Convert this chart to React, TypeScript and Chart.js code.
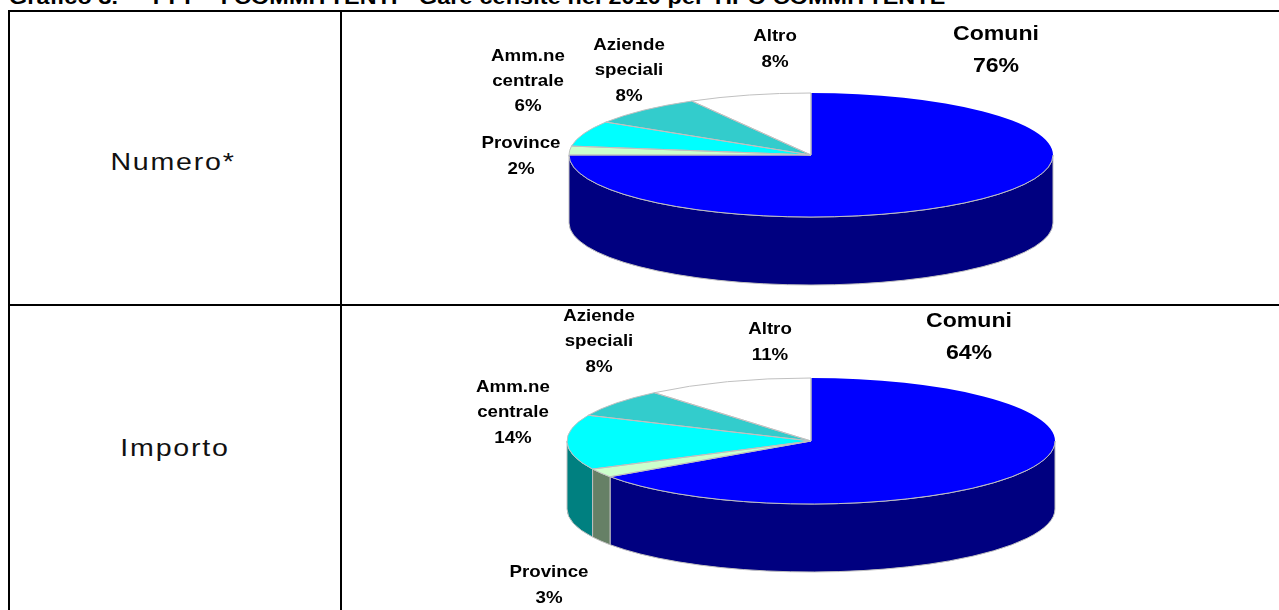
import React, { useEffect, useRef } from "react";
import { Chart, registerables } from "chart.js";

Chart.register(...registerables);

// ---- data ----
const sliceNames = ["Comuni", "Province", "Amm.ne centrale", "Aziende speciali", "Altro"];
const numeroValues = [75, 2.3, 6.6, 7.9, 8.2];
const importoValues = [65.4, 2.25, 14.05, 7.2, 11.1];
const numeroPercentLabels = ["76%", "2%", "6%", "8%", "8%"];
const importoPercentLabels = ["64%", "3%", "14%", "8%", "11%"];
const rowLabels = ["Numero*", "Importo"];
const titleText = "Grafico 3.  -  PPP - I COMMITTENTI - Gare censite nel 2010 per TIPO COMMITTENTE";

// ---- styles ----
const topColors = ["#0000ff", "#ccffcc", "#00ffff", "#33cccc", "#ffffff"];
const wallColors = ["#000080", "#668066", "#008080", "#1a8080", "#808080"];
const edge = "#c0c0c0";
const labelFont = '"Liberation Sans", Arial, sans-serif';

type LabelPos = { x: number; y: number; gap: number; size: number };

const numeroLayout = {
  left: 342, top: 12, width: 936, height: 292, padLeft: 2, padBottom: 6,
  radius: 242, ry: 62, depth: 68,
  labels: [
    { x: 996, y: 34, gap: 32, size: 21 },
    { x: 521, y: 143, gap: 26, size: 17 },
    { x: 528, y: 56, gap: 25, size: 17 },
    { x: 629, y: 45, gap: 25.5, size: 17 },
    { x: 775, y: 36, gap: 26, size: 17 },
  ] as LabelPos[],
};
const importoLayout = {
  left: 342, top: 306, width: 936, height: 304, padLeft: 2, padBottom: 34,
  radius: 244, ry: 63, depth: 68,
  labels: [
    { x: 969, y: 321, gap: 32, size: 21 },
    { x: 549, y: 572, gap: 26, size: 17 },
    { x: 513, y: 387, gap: 25.5, size: 17 },
    { x: 599, y: 316, gap: 25.5, size: 17 },
    { x: 770, y: 329, gap: 26, size: 17 },
  ] as LabelPos[],
};

function makePie3d(layout: typeof numeroLayout, percents: string[]) {
  const k = layout.ry / layout.radius;
  return {
    id: "pie3d",
    beforeDatasetDraw(chart: any) {
      const ctx = chart.ctx;
      const arcs = chart.getDatasetMeta(0).data;
      ctx.save();
      ctx.strokeStyle = edge;
      ctx.lineWidth = 1;
      arcs.forEach((arc: any, i: number) => {
        const s = Math.max(arc.startAngle, 0);
        const e = Math.min(arc.endAngle, Math.PI);
        if (s >= e) return;
        const r = arc.outerRadius;
        ctx.beginPath();
        ctx.ellipse(arc.x, arc.y, r, r * k, 0, s, e);
        ctx.ellipse(arc.x, arc.y + layout.depth, r, r * k, 0, e, s, true);
        ctx.closePath();
        ctx.fillStyle = wallColors[i];
        ctx.fill();
        ctx.stroke();
      });
      ctx.restore();
      const first = arcs[0];
      ctx.save();
      ctx.translate(first.x, first.y);
      ctx.scale(1, k);
      ctx.translate(-first.x, -first.y);
    },
    afterDatasetDraw(chart: any) {
      const ctx = chart.ctx;
      ctx.restore();
      const arcs = chart.getDatasetMeta(0).data;
      ctx.save();
      ctx.strokeStyle = edge;
      ctx.lineWidth = 1;
      arcs.forEach((arc: any, i: number) => {
        const r = arc.outerRadius;
        ctx.beginPath();
        if (i === 0) {
          // the largest slice shows no rim along its back edge
          ctx.moveTo(arc.x, arc.y - r * k);
          ctx.lineTo(arc.x, arc.y);
          ctx.lineTo(arc.x + r * Math.cos(arc.endAngle), arc.y + r * k * Math.sin(arc.endAngle));
          ctx.ellipse(arc.x, arc.y, r, r * k, 0, arc.endAngle, 0, true);
        } else {
          ctx.moveTo(arc.x, arc.y);
          ctx.ellipse(arc.x, arc.y, r, r * k, 0, arc.startAngle, arc.endAngle);
          ctx.closePath();
        }
        ctx.stroke();
      });
      ctx.restore();
    },
    afterDraw(chart: any) {
      const ctx = chart.ctx;
      ctx.save();
      ctx.fillStyle = "#000";
      ctx.textAlign = "center";
      ctx.textBaseline = "middle";
      sliceNames.forEach((name, i) => {
        const p = layout.labels[i];
        const words = name.split(" ");
        const lines = [...words, percents[i]];
        ctx.font = `bold ${p.size}px ${labelFont}`;
        lines.forEach((t, j) => {
          ctx.save();
          ctx.translate(p.x - layout.left, p.y - layout.top + j * p.gap);
          ctx.scale(1.1, 1);
          ctx.fillText(t, 0, 0);
          ctx.restore();
        });
      });
      ctx.restore();
    },
  };
}

function Pie({ values, layout, percents }: { values: number[]; layout: typeof numeroLayout; percents: string[] }) {
  const ref = useRef<HTMLCanvasElement | null>(null);
  useEffect(() => {
    if (!ref.current) return;
    const chart = new Chart(ref.current, {
      type: "pie",
      data: {
        labels: sliceNames,
        datasets: [
          {
            data: values,
            backgroundColor: topColors,
            borderWidth: 0,
            radius: layout.radius,
            clip: false,
          } as any,
        ],
      },
      options: {
        animation: false,
        responsive: false,
        maintainAspectRatio: false,
        events: [],
        layout: { padding: { left: layout.padLeft, bottom: layout.padBottom, top: 0, right: 0 } },
        plugins: { legend: { display: false }, title: { display: false }, tooltip: { enabled: false } },
      },
      plugins: [makePie3d(layout, percents)],
    });
    return () => chart.destroy();
  }, []);
  return (
    <canvas
      ref={ref}
      width={layout.width}
      height={layout.height}
      style={{ position: "absolute", left: layout.left, top: layout.top, width: layout.width, height: layout.height }}
    />
  );
}

const line = (left: number, top: number, width: number, height: number): React.CSSProperties => ({
  position: "absolute", left, top, width, height, background: "#000",
});

const rowText = (cx: number, cy: number): React.CSSProperties => ({
  position: "absolute",
  left: cx - 100,
  top: cy - 15,
  width: 200,
  height: 30,
  lineHeight: "30px",
  textAlign: "center",
  fontFamily: labelFont,
  fontSize: 24,
  letterSpacing: 1.5,
  color: "#111",
  transform: "scaleX(1.19)",
  whiteSpace: "pre",
});

export default function App() {
  return (
    <div style={{ position: "fixed", left: 0, top: 0, width: 1279, height: 610, overflow: "hidden", background: "#fff" }}>
      <div
        style={{
          position: "absolute", left: 9, top: -13, height: 20, lineHeight: "20px", whiteSpace: "pre",
          fontFamily: labelFont, fontWeight: "bold", fontSize: 20, letterSpacing: 0.15, color: "#000",
          transform: "scaleX(1.165)", transformOrigin: "left top",
        }}
      >
        {titleText}
      </div>
      <div style={line(8, 10, 1271, 2)} />
      <div style={line(8, 10, 2, 600)} />
      <div style={line(340, 10, 2, 600)} />
      <div style={line(8, 304, 1271, 2)} />
      <div style={rowText(173, 162)}>{rowLabels[0]}</div>
      <div style={rowText(175, 448)}>{rowLabels[1]}</div>
      <Pie values={numeroValues} layout={numeroLayout} percents={numeroPercentLabels} />
      <Pie values={importoValues} layout={importoLayout} percents={importoPercentLabels} />
    </div>
  );
}
